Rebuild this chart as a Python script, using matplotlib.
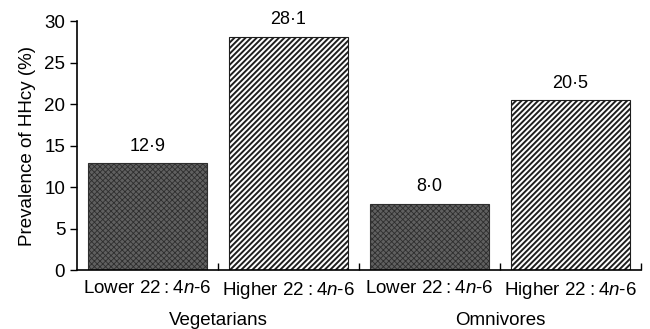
import matplotlib.pyplot as plt
import numpy as np

plt.rcParams['font.family'] = ['Liberation Sans', 'DejaVu Sans']
plt.rcParams['mathtext.fontset'] = 'custom'
plt.rcParams['mathtext.it'] = 'Liberation Sans:italic'
plt.rcParams['mathtext.rm'] = 'Liberation Sans'

groups = ['Vegetarians', 'Omnivores']
bar_labels = ['Lower 22\u2009:\u20094$n$-6', 'Higher 22\u2009:\u20094$n$-6',
              'Lower 22\u2009:\u20094$n$-6', 'Higher 22\u2009:\u20094$n$-6']
prevalence = [12.9, 28.1, 8.0, 20.5]
value_text = ['12·9', '28·1', '8·0', '20·5']
is_lower = [True, False, True, False]

fig = plt.figure(figsize=(6.5, 3.29), dpi=100)
ax = fig.add_axes([0.1185, 0.179, 0.8677, 0.757])

x = np.arange(len(prevalence))
for xi, v, lo in zip(x, prevalence, is_lower):
    if lo:
        b = ax.bar(xi, v, width=0.84, facecolor='#606060', edgecolor='#2e2e2e',
                   hatch='xxxxxx', linewidth=0.8)
        b[0].set_hatch_linewidth(0.6)
    else:
        b = ax.bar(xi, v, width=0.84, facecolor='white', edgecolor='#1e1e1e',
                   hatch='//////', linewidth=0.8)
        b[0].set_hatch_linewidth(1.4)

for xi, v, t in zip(x, prevalence, value_text):
    ax.annotate(t, (xi, v), xytext=(0, 6), textcoords='offset points',
                ha='center', va='bottom', fontsize=13)

ax.set_xlim(-0.5, 3.5)
ax.set_ylim(0, 30)
ax.set_yticks(range(0, 31, 5))
ax.tick_params(axis='y', labelsize=13.5, direction='out', length=5, width=1)

# boundaries between bars get small inward ticks, labels sit under bars
ax.set_xticks([0.5, 1.5, 2.5, 3.5])
ax.set_xticklabels([])
ax.tick_params(axis='x', direction='in', length=5, width=1)
for xi, lab in zip(x, bar_labels):
    ax.text(xi, -1.2, lab, ha='center', va='top', fontsize=13.5)
for gi, g in enumerate(groups):
    ax.text(2 * gi + 0.5, -5.0, g, ha='center', va='top', fontsize=13.5)

ax.set_ylabel('Prevalence of HHcy (%)', fontsize=13.5, labelpad=6)
ax.spines['top'].set_visible(False)
ax.spines['right'].set_visible(False)
ax.spines['left'].set_linewidth(1.2)
ax.spines['bottom'].set_linewidth(1.2)

fig.savefig('out.png', dpi=100)
